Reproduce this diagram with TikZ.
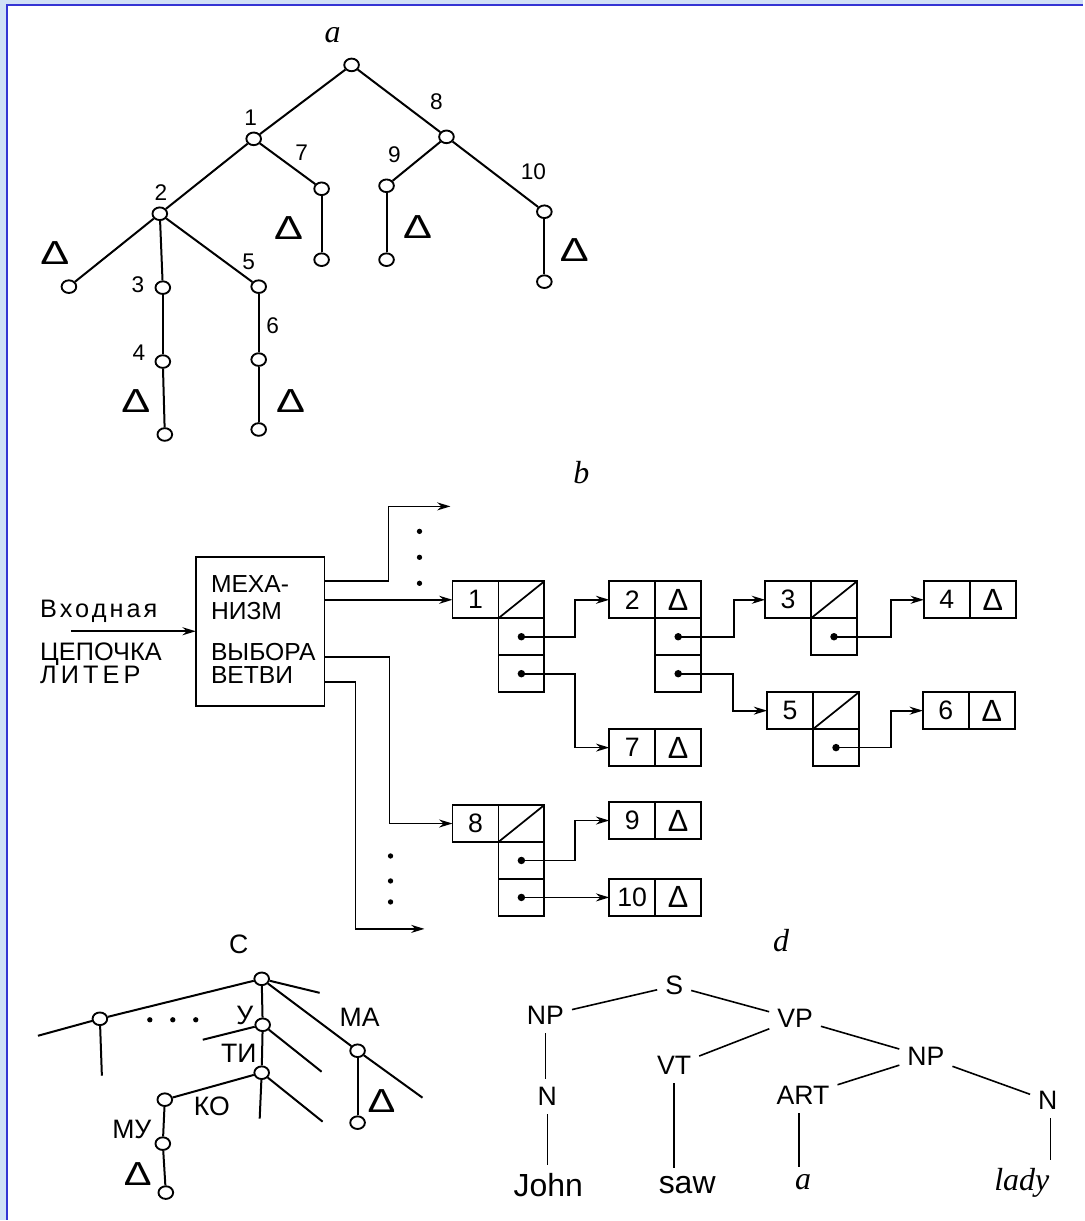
\documentclass[tikz,border=0pt]{standalone}
\usepackage{graphicx}
\usepackage{fontspec}
\setmainfont{Liberation Sans}
\newfontfamily\hand{Liberation Serif}
\newfontfamily\wideA[LetterSpace=12]{Liberation Sans}
\newfontfamily\wideC[LetterSpace=16]{Liberation Sans}
\usetikzlibrary{shapes.geometric,arrows.meta,calc}
\newcommand{\szA}{\fontsize{17pt}{20pt}\selectfont}
\newcommand{\szB}{\fontsize{20pt}{23pt}\selectfont}
\newcommand{\szC}{\fontsize{18.5pt}{22pt}\selectfont}
\newcommand{\szD}{\fontsize{25pt}{28pt}\selectfont}
\newcommand{\szE}{\fontsize{20pt}{23pt}\selectfont}
\newcommand{\szF}{\fontsize{20pt}{23pt}\selectfont}
\newcommand{\szG}{\fontsize{24pt}{27pt}\selectfont}
\newcommand{\szH}{\fontsize{23pt}{26pt}\selectfont}
\newcommand{\szI}{\fontsize{19pt}{23pt}\selectfont}
\definecolor{bgblue}{RGB}{208,224,246}
\definecolor{frameblue}{RGB}{52,52,212}
\tikzset{
  tn/.style={ellipse,draw,line width=1.4pt,minimum width=11pt,minimum height=9.5pt,inner sep=0pt,fill=white},
  tl/.style={line width=1.5pt},
  numl/.style={font=\szA,inner sep=0pt},
  tria/.style={font=\szD,inner sep=0pt},
  cell/.style={draw,line width=1.3pt,minimum width=34.5pt,minimum height=27.75pt,inner sep=0pt,outer sep=0pt,font=\szB},
  celltri/.style={cell,font=\szH},
  arr/.style={line width=1.3pt,-{Stealth[length=10pt,width=6pt]}},
  mtxt/.style={font=\szC,inner sep=0pt,anchor=west},
  itxt/.style={font=\szI,inner sep=0pt,anchor=west},
  ctxt/.style={font=\szE,inner sep=0pt},
  dtxt/.style={font=\szF,inner sep=3pt},
  dword/.style={font=\szG,inner sep=3pt},
  partlbl/.style={font=\szG\hand\itshape,inner sep=0pt},
  dline/.style={line width=1.2pt}
}
\begin{document}
\begin{tikzpicture}[x=0.75pt,y=-0.75pt]
% background and frame
\fill[bgblue] (0,0) rectangle (1084,1221);
\fill[white] (7,5) rectangle (1084,1221);
\draw[frameblue,line width=2.2pt] (7,1221) -- (7,5) -- (1084,5);
\useasboundingbox (0,0) rectangle (1084,1221);

% ---------------- part a ----------------
\node[partlbl] (la) at (333,35) {a};
\node[tn] (a0) at (352,65) {};
\node[tn] (a1) at (254,139) {};
\node[tn] (a8) at (447,137) {};
\node[tn] (a7) at (322,189) {};
\node[tn] (a9) at (387,186) {};
\node[tn] (a10) at (545,212) {};
\node[tn] (a2) at (160,214) {};
\node[tn] (al2) at (69,287) {};
\node[tn] (a3) at (163,288) {};
\node[tn] (a5) at (259,287) {};
\node[tn] (a6) at (259,360) {};
\node[tn] (a4) at (163,362) {};
\node[tn] (al4) at (165,435) {};
\node[tn] (al6) at (259,430) {};
\node[tn] (al7) at (322,260) {};
\node[tn] (al9) at (387,260) {};
\node[tn] (al10) at (545,282) {};
\foreach \u/\v in {a0/a1,a0/a8,a1/a2,a1/a7,a7/al7,a8/a9,a9/al9,a8/a10,a10/al10,a2/al2,a2/a3,a3/a4,a4/al4,a2/a5,a5/a6,a6/al6}
  \draw[tl] (\u) -- (\v);
\node[numl] (n1) at (251,118) {1};
\node[numl] (n8) at (437,102) {8};
\node[numl] (n7) at (302,153) {7};
\node[numl] (n9) at (395,155) {9};
\node[numl] (n10) at (534,172) {10};
\node[numl] (n2) at (161,193) {2};
\node[numl] (n3) at (138,285) {3};
\node[numl] (n5) at (249,262) {5};
\node[numl] (n6) at (273,326) {6};
\node[numl] (n4) at (139,353) {4};
\node[tria] (d2) at (55,253) {\scalebox{1.3}[1]{Δ}};
\node[tria] (d4) at (136,402) {\scalebox{1.3}[1]{Δ}};
\node[tria] (d6) at (291,402) {\scalebox{1.3}[1]{Δ}};
\node[tria] (d7) at (289,228) {\scalebox{1.3}[1]{Δ}};
\node[tria] (d9) at (418,227) {\scalebox{1.3}[1]{Δ}};
\node[tria] (d10) at (575,250) {\scalebox{1.3}[1]{Δ}};

% ---------------- part b ----------------
\node[partlbl] (lb) at (582,473) {b};
\node[draw,line width=1.3pt,minimum width=96.75pt,minimum height=111.75pt,inner sep=0pt,outer sep=0pt] (mech) at (260.5,632.5) {};
\node[mtxt] (m1) at (211,585) {МЕХА-};
\node[mtxt] (m2) at (211,612) {НИЗМ};
\node[mtxt] (m3) at (211,653) {ВЫБОРА};
\node[mtxt] (m4) at (211,676) {ВЕТВИ};
\node[itxt] (i1) at (40,612) {\wideA Входная};
\node[itxt] (i2) at (40,655) {ЦЕПОЧКА};
\node[itxt] (i3) at (40,676) {\wideC ЛИТЕР};
\coordinate (inS) at (71,632);
\draw[arr] (inS) -- (inS -| mech.west);

% records
\node[cell,anchor=north west] (r1a) at (453,582) {1};
\node[cell,anchor=north west] (r1b) at (r1a.north east) {};
\node[cell,anchor=north] (r1c) at (r1b.south) {};
\node[cell,anchor=north] (r1d) at (r1c.south) {};
\draw[line width=1.3pt] (r1b.south west) -- (r1b.north east);

\node[cell,anchor=north west] (r2a) at (610,582) {2};
\node[celltri,anchor=north west] (r2b) at (r2a.north east) {Δ};
\node[cell,anchor=north] (r2c) at (r2b.south) {};
\node[cell,anchor=north] (r2d) at (r2c.south) {};

\node[cell,anchor=north west] (r3a) at (766,582) {3};
\node[cell,anchor=north west] (r3b) at (r3a.north east) {};
\node[cell,anchor=north] (r3c) at (r3b.south) {};
\draw[line width=1.3pt] (r3b.south west) -- (r3b.north east);

\node[cell,anchor=north west] (r4a) at (925,582) {4};
\node[celltri,anchor=north west] (r4b) at (r4a.north east) {Δ};

\node[cell,anchor=north west] (r5a) at (768,693) {5};
\node[cell,anchor=north west] (r5b) at (r5a.north east) {};
\node[cell,anchor=north] (r5c) at (r5b.south) {};
\draw[line width=1.3pt] (r5b.south west) -- (r5b.north east);

\node[cell,anchor=north west] (r6a) at (924,693) {6};
\node[celltri,anchor=north west] (r6b) at (r6a.north east) {Δ};

\node[cell,anchor=north west] (r7a) at (610,730) {7};
\node[celltri,anchor=north west] (r7b) at (r7a.north east) {Δ};

\node[cell,anchor=north west] (r8a) at (453,806) {8};
\node[cell,anchor=north west] (r8b) at (r8a.north east) {};
\node[cell,anchor=north] (r8c) at (r8b.south) {};
\node[cell,anchor=north] (r8d) at (r8c.south) {};
\draw[line width=1.3pt] (r8b.south west) -- (r8b.north east);

\node[cell,anchor=north west] (r9a) at (610,803) {9};
\node[celltri,anchor=north west] (r9b) at (r9a.north east) {Δ};

\node[cell,anchor=north west] (r10a) at (610,880) {10};
\node[celltri,anchor=north west] (r10b) at (r10a.north east) {Δ};

\foreach \c in {r1c,r1d,r2c,r2d,r3c,r5c,r8c,r8d}
  \fill (\c.center) circle[radius=2.8pt];

\draw[arr] (r1c.center) -- ++(54,0) |- (r2a.west);
\draw[arr] (r1d.center) -- ++(54,0) |- (r7a.west);
\draw[arr] (r2c.center) -- ++(56,0) |- (r3a.west);
\draw[arr] (r2d.center) -- ++(55,0) |- (r5a.west);
\draw[arr] (r3c.center) -- ++(57,0) |- (r4a.west);
\draw[arr] (r5c.center) -- ++(55,0) |- (r6a.west);
\draw[arr] (r8c.center) -- ++(54,0) |- (r9a.west);
\draw[arr] (r8d.center) -- (r10a.west);

% outputs of the mechanism
\coordinate (t1) at (389,507);
\coordinate (e1) at (451,507);
\coordinate (e4) at (425,930);
\draw[arr] ([yshift=-18pt]mech.north east) -| (t1) -- (e1);
\draw[arr] (mech.east |- r1a.west) -- (r1a.west);
\draw[arr] ([yshift=-75pt]mech.north east) -- ++(65,0) |- (r8a.west);
\draw[arr] ([yshift=-93.75pt]mech.north east) -- ++(31,0) |- (e4);
\foreach \yy in {532,558,584} \fill (420,\yy) circle[radius=2pt];
\foreach \yy in {857,882,903} \fill (391,\yy) circle[radius=2pt];

% ---------------- part c ----------------
\node[ctxt] (lc) at (239,945) {C};
\node[tn] (croot) at (262,980) {};
\node[tn] (cleft) at (100,1020) {};
\node[tn] (cU) at (263,1026) {};
\node[tn] (cTI) at (262,1074) {};
\node[tn] (cKO) at (165,1101) {};
\node[tn] (cMU) at (163,1145) {};
\node[tn] (cleaf) at (166,1194) {};
\node[tn] (cMA) at (358,1052) {};
\node[tn] (cMAleaf) at (358,1124) {};
\coordinate (cx1) at (38,1037);
\coordinate (cx2) at (102,1077);
\coordinate (cx3) at (320,994);
\coordinate (cx4) at (423,1099);
\coordinate (cx5) at (203,1041);
\coordinate (cx6) at (322,1073);
\coordinate (cx7) at (260,1120);
\coordinate (cx8) at (323,1123);
\draw[tl] (croot) -- (cleft);
\draw[tl] (cleft) -- (cx1);
\draw[tl] (cleft) -- (cx2);
\draw[tl] (croot) -- (cx3);
\draw[tl] (croot) -- (cMA);
\draw[tl] (cMA) -- (cx4);
\draw[tl] (cMA) -- (cMAleaf);
\draw[tl] (croot) -- (cU);
\draw[tl] (cU) -- (cTI);
\draw[tl] (cTI) -- (cx7);
\draw[tl] (cU) -- (cx5);
\draw[tl] (cU) -- (cx6);
\draw[tl] (cTI) -- (cKO);
\draw[tl] (cTI) -- (cx8);
\draw[tl] (cKO) -- (cMU);
\draw[tl] (cMU) -- (cleaf);
\foreach \xx in {150,173,196} \fill (\xx,1021) circle[radius=2pt];
\node[ctxt] (tU) at (245,1017) {У};
\node[ctxt] (tTI) at (239,1055) {ТИ};
\node[ctxt] (tKO) at (212,1108) {КО};
\node[ctxt] (tMU) at (132,1131) {МУ};
\node[ctxt] (tMA) at (360,1019) {МА};
\node[tria] (cd1) at (138,1175) {\scalebox{1.25}[1]{Δ}};
\node[tria] (cd2) at (382,1102) {\scalebox{1.25}[1]{Δ}};

% ---------------- part d ----------------
\node[partlbl] (ld) at (782,942) {d};
\node[dtxt] (dS) at (675,987) {S};
\node[dtxt] (dNP1) at (546,1017) {NP};
\node[dtxt] (dVP) at (796,1020) {VP};
\node[dtxt] (dVT) at (675,1067) {VT};
\node[dtxt] (dNP2) at (927,1058) {NP};
\node[dtxt] (dN1) at (548,1098) {N};
\node[dtxt] (dART) at (804,1097) {ART};
\node[dtxt] (dN2) at (1049,1102) {N};
\node[dword] (dJohn) at (549,1186) {John};
\node[dword] (dsaw) at (688,1186) {saw};
\node[dword] (da) at (804,1184) {\hand\itshape a};
\node[dword] (dlady) at (1023,1184) {\hand\itshape lady};
\draw[dline,shorten <=3pt,shorten >=3pt] (dNP1) -- (dS);
\draw[dline,shorten <=3pt,shorten >=3pt] (dS) -- (dVP);
\draw[dline,shorten <=3pt,shorten >=3pt] (dVP) -- (dVT);
\draw[dline,shorten <=3pt,shorten >=3pt] (dVP) -- (dNP2);
\draw[dline,shorten <=3pt,shorten >=3pt] (dNP2) -- (dART);
\draw[dline,shorten <=3pt,shorten >=3pt] (dNP2) -- (dN2);
\draw[dline,shorten <=3pt,shorten >=3pt] (dNP1.south) -- (dNP1.south |- dN1.north);
\draw[dline,shorten <=3pt,shorten >=3pt] (dN1.south) -- (dN1.south |- dJohn.north);
\draw[dline,shorten <=3pt,shorten >=3pt] (dVT.south) -- (dVT.south |- dsaw.north);
\draw[dline,shorten <=3pt,shorten >=3pt] ([xshift=-3pt]dART.south) -- ([xshift=-3pt]dART.south |- da.north);
\draw[dline,shorten <=3pt,shorten >=3pt] ([xshift=2pt]dN2.south) -- ([xshift=2pt]dN2.south |- dlady.north);
\end{tikzpicture}
\end{document}
